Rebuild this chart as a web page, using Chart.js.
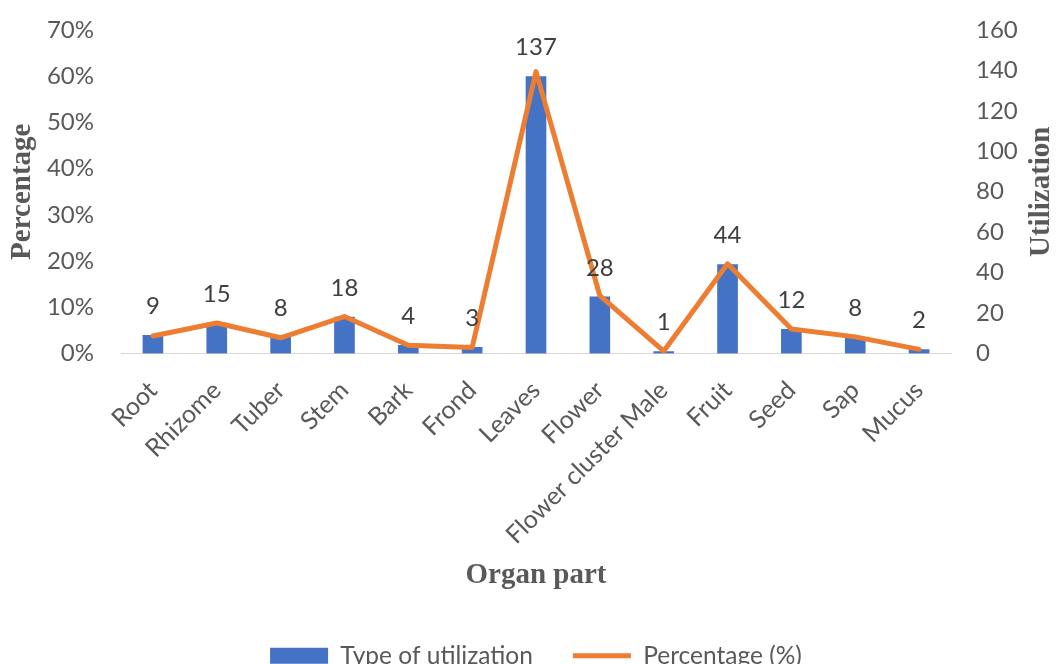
<!DOCTYPE html>
<html>
<head>
<meta charset="utf-8">
<script src="https://cdn.jsdelivr.net/npm/chart.js@4.4.1/dist/chart.umd.min.js"></script>
<style>
  html, body { margin: 0; padding: 0; background: #ffffff; overflow: hidden; width: 1057px; height: 664px; }
  #wrap { position: relative; width: 1057px; height: 678px; }
</style>
</head>
<body>
<div id="wrap"><canvas id="chart" width="1057" height="678"></canvas></div>
<script>
// Organ parts used and how often each one is used
const categories = ['Root', 'Rhizome', 'Tuber', 'Stem', 'Bark', 'Frond', 'Leaves', 'Flower',
  'Flower cluster Male', 'Fruit', 'Seed', 'Sap', 'Mucus'];
const utilization = [9, 15, 8, 18, 4, 3, 137, 28, 1, 44, 12, 8, 2];
const percentage = [3.8, 6.6, 3.4, 8.0, 1.8, 1.3, 61.0, 12.5, 0.5, 19.4, 5.3, 3.6, 0.9];

// Axis tick values
const percentTicks = [0, 10, 20, 30, 40, 50, 60, 70];
const utilTicks = [0, 20, 40, 60, 80, 100, 120, 140, 160];

const SANS = 'Lato, "Open Sans", sans-serif';
const SERIF = '"Liberation Serif", "DejaVu Serif", serif';
const TEXT_GREY = '#595959';

// Value labels above each bar
const barValueLabels = {
  id: 'barValueLabels',
  afterDatasetsDraw(chart) {
    const ctx = chart.ctx;
    const idx = chart.data.datasets.findIndex(d => d.type === 'bar');
    const meta = chart.getDatasetMeta(idx);
    ctx.save();
    ctx.font = '24px ' + SANS;
    ctx.fillStyle = '#404040';
    ctx.textAlign = 'center';
    ctx.textBaseline = 'middle';
    meta.data.forEach((el, i) => {
      ctx.fillText(String(chart.data.datasets[idx].data[i]), el.x, el.y - 29);
    });
    ctx.restore();
  }
};

// Right-hand axis title, reading bottom to top
const rightAxisTitle = {
  id: 'rightAxisTitle',
  afterDraw(chart) {
    const ctx = chart.ctx;
    const area = chart.chartArea;
    ctx.save();
    ctx.translate(1042, (area.top + area.bottom) / 2);
    ctx.rotate(-Math.PI / 2);
    ctx.font = 'bold 29px ' + SERIF;
    ctx.fillStyle = TEXT_GREY;
    ctx.textAlign = 'center';
    ctx.textBaseline = 'middle';
    ctx.fillText('Utilization', 0, 0);
    ctx.restore();
  }
};

new Chart(document.getElementById('chart'), {
  data: {
    labels: categories,
    datasets: [
      {
        type: 'bar',
        label: 'Type of utilization',
        data: utilization,
        yAxisID: 'y1',
        backgroundColor: '#4472C4',
        borderWidth: 0,
        barThickness: 20,
        pointStyle: 'rect',
        order: 1
      },
      {
        type: 'line',
        label: 'Percentage (%)',
        data: percentage,
        yAxisID: 'y',
        borderColor: '#ED7D31',
        backgroundColor: '#ED7D31',
        borderWidth: 5,
        borderJoinStyle: 'round',
        borderCapStyle: 'round',
        tension: 0,
        pointRadius: 0,
        pointHoverRadius: 0,
        pointStyle: 'line',
        order: 0
      }
    ]
  },
  options: {
    responsive: false,
    animation: false,
    events: [],
    layout: { padding: { top: 30, left: 0, right: 0, bottom: 0 } },
    plugins: {
      tooltip: { enabled: false },
      legend: {
        position: 'bottom',
        fullSize: false,
        labels: {
          usePointStyle: true,
          pointStyleWidth: 58,
          boxHeight: 16,
          padding: 40,
          color: TEXT_GREY,
          font: { family: SANS, size: 24.5 },
          sort: (a, b) => a.datasetIndex - b.datasetIndex
        }
      }
    },
    scales: {
      x: {
        type: 'category',
        offset: true,
        grid: { display: false, drawTicks: false },
        border: { display: true, color: '#D9D9D9', width: 1 },
        ticks: {
          autoSkip: false,
          minRotation: 45,
          maxRotation: 45,
          padding: 22,
          color: TEXT_GREY,
          font: { family: SANS, size: 25 }
        },
        title: {
          display: true,
          text: 'Organ part',
          color: TEXT_GREY,
          font: { family: SERIF, size: 29, weight: 'bold' },
          padding: { top: 0, bottom: 11 }
        },
        afterFit(scale) { scale.height = 250; }
      },
      y: {
        type: 'linear',
        position: 'left',
        min: 0,
        max: 70,
        afterBuildTicks(scale) { scale.ticks = percentTicks.map(v => ({ value: v })); },
        grid: { display: false, drawTicks: true, tickLength: 25 },
        border: { display: false },
        ticks: {
          padding: 2,
          color: TEXT_GREY,
          font: { family: SANS, size: 24 },
          callback: v => v + '%'
        },
        title: {
          display: true,
          text: 'Percentage',
          color: TEXT_GREY,
          font: { family: SERIF, size: 29, weight: 'bold' },
          padding: { top: 5, bottom: 0 }
        },
        afterFit(scale) { scale.width = 121; }
      },
      y1: {
        type: 'linear',
        position: 'right',
        min: 0,
        max: 160,
        afterBuildTicks(scale) { scale.ticks = utilTicks.map(v => ({ value: v })); },
        grid: { display: false, drawTicks: true, tickLength: 23 },
        border: { display: false },
        ticks: {
          padding: 2,
          color: TEXT_GREY,
          font: { family: SANS, size: 24 }
        },
        afterFit(scale) { scale.width = 106; }
      }
    }
  },
  plugins: [barValueLabels, rightAxisTitle]
});
</script>
</body>
</html>
